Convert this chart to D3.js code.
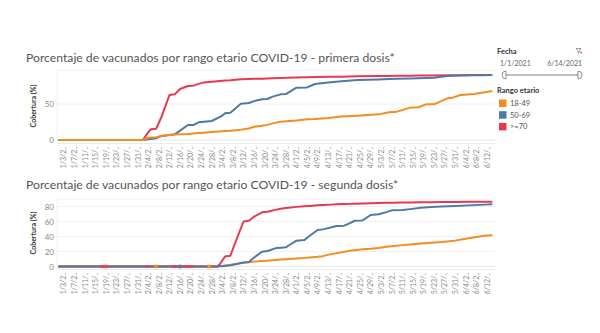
<!DOCTYPE html>
<html>
<head>
<meta charset="utf-8">
<script src="https://cdn.jsdelivr.net/npm/d3@7"></script>
<style>
  html, body { margin: 0; padding: 0; background: #fff; }
  svg { display: block; font-family: Lato, "Open Sans", sans-serif; }
</style>
</head>
<body>
<svg id="chart" width="600" height="333"></svg>
<script>
// Rango etario series
const rangos = ["18-49", "50-69", ">=70"];
const colores = ["#f68b1f", "#4e79a7", "#e8384f"];

// Primera dosis: sampled dates and coverage (%) per age range
const fechasPrimera = ["1/1/2021","2/2/2021","2/4/2021","2/5/2021","2/7/2021","2/9/2021","2/12/2021","2/14/2021","2/16/2021","2/19/2021","2/21/2021","2/23/2021","2/25/2021","2/28/2021","3/4/2021","3/5/2021","3/7/2021","3/11/2021","3/14/2021","3/16/2021","3/19/2021","3/21/2021","3/23/2021","3/26/2021","3/28/2021","4/1/2021","4/5/2021","4/8/2021","4/13/2021","4/18/2021","4/24/2021","5/2/2021","5/6/2021","5/9/2021","5/14/2021","5/17/2021","5/20/2021","5/23/2021","5/28/2021","5/30/2021","6/2/2021","6/7/2021","6/10/2021","6/14/2021"];
const primera1849 = [0,0,3.2,3.4,3.7,5.5,7,7.5,8,8.3,9,9.6,10.2,11,12.2,12.5,13,14.4,16,18.5,19.9,21,23.1,25.5,26,27,28.7,29.2,30.5,32.8,33.8,35.6,38.4,39.4,45,45.4,49.5,49.6,57.9,58.8,62.5,63.9,65.5,68];
const primera5069 = [0,0,1,1.5,2.5,5.6,7,7.9,13,20.8,20.8,24.5,25.5,26.4,34,37,38,50.5,51.4,54,56.5,57,60.2,63.4,63.8,72.7,73,77.8,80,81.5,83.3,84.2,84.7,85,85.4,85.8,86.2,86.6,88.9,89.2,89.5,89.8,90,90.3];
const primera70 = [0,0,11,15,15.7,32,62.5,63.4,70.8,75,75.5,78,80,81,82.4,82.6,83,84.3,84.6,84.9,85.1,85.4,85.6,86,86.3,86.8,87.2,87.5,87.8,88,88.4,88.8,89,89.2,89.4,89.5,89.6,89.7,89.9,90,90.1,90.2,90.2,90.3];

// Segunda dosis: sampled dates and coverage (%) per age range
const fechasSegunda = ["1/1/2021","3/2/2021","3/3/2021","3/5/2021","3/7/2021","3/9/2021","3/12/2021","3/14/2021","3/16/2021","3/19/2021","3/21/2021","3/24/2021","3/26/2021","3/28/2021","3/29/2021","4/1/2021","4/4/2021","4/6/2021","4/9/2021","4/11/2021","4/14/2021","4/16/2021","4/19/2021","4/21/2021","4/23/2021","4/26/2021","4/29/2021","5/2/2021","5/5/2021","5/7/2021","5/11/2021","5/14/2021","5/18/2021","5/22/2021","5/26/2021","5/31/2021","6/5/2021","6/11/2021","6/14/2021"];
const segunda1849 = [0,0,0.5,1.5,2.3,3.5,5,5.6,6.5,7.3,7.8,8.6,9.2,9.8,10,10.7,11.5,12.1,13,13.8,16.5,17.6,19.5,20.9,21.8,23.1,23.8,24.8,26.2,27,28.5,29.4,30.6,31.8,32.8,34.5,37.6,41,41.8];
const segunda5069 = [0,0,0.3,0.8,1.5,3,5.2,6,12,19.7,20.6,24.2,25,25.6,28,34.4,35.3,41,48.7,49.5,52,54,54.4,57.5,61,61.5,68.7,69.6,72.5,74.9,75.3,76.5,78.4,79.2,79.9,80.7,81.5,82.5,82.9];
const segunda70 = [0,0,3,13.3,14.2,33,60,60.9,66.4,72.2,73.1,75.5,77,78,78.4,79.5,80.3,80.8,81.6,82,82.5,82.9,83.2,83.5,83.8,84.1,84.4,84.7,84.9,85,85.2,85.4,85.6,85.8,85.9,86.1,86.2,86.4,86.4];

// Marks of other series that show through on the shared zero line (segunda dosis)
const marcasCeroSerie = ["18-49", "18-49", "18-49", "50-69", ">=70", ">=70", ">=70", ">=70"];
const marcasCeroDesde = ["1/19/2021", "2/7/2021", "2/27/2021", "2/16/2021", "1/17/2021", "2/3/2021", "2/13/2021", "2/17/2021"];
const marcasCeroHasta = ["1/19/2021", "2/7/2021", "2/27/2021", "2/16/2021", "1/20/2021", "2/4/2021", "2/15/2021", "2/21/2021"];

// Axis ticks
const ticksPrimera = [0, 50];
const ticksSegunda = [0, 20, 40, 60, 80];
const etiquetasFecha = ["1/3/2021","1/7/2021","1/11/2021","1/15/2021","1/19/2021","1/23/2021","1/27/2021","1/31/2021","2/4/2021","2/8/2021","2/12/2021","2/16/2021","2/20/2021","2/24/2021","2/28/2021","3/4/2021","3/8/2021","3/12/2021","3/16/2021","3/20/2021","3/24/2021","3/28/2021","4/1/2021","4/5/2021","4/9/2021","4/13/2021","4/17/2021","4/21/2021","4/25/2021","4/29/2021","5/3/2021","5/7/2021","5/11/2021","5/15/2021","5/19/2021","5/23/2021","5/27/2021","5/31/2021","6/4/2021","6/8/2021","6/12/2021"];

// Filter card
const fechaInicio = "1/1/2021";
const fechaFin = "6/14/2021";

const parse = d3.timeParse("%m/%d/%Y");
const svg = d3.select("#chart");

const x = d3.scaleTime()
  .domain([parse(fechaInicio), parse(fechaFin)])
  .range([58.3, 492.3]);

const color = d3.scaleOrdinal().domain(rangos).range(colores);

function panel(cfg) {
  const g = svg.append("g");
  const y = d3.scaleLinear().domain(cfg.domain).range(cfg.yRange);

  // title
  g.append("text")
    .attr("x", 26).attr("y", cfg.titleY)
    .attr("font-size", 12.2).attr("fill", "#555")
    .text(cfg.title);

  // plot frame lines
  g.append("line").attr("x1", 57).attr("x2", 495)
    .attr("y1", cfg.plotTop).attr("y2", cfg.plotTop)
    .attr("stroke", "#f2f2f2");
  g.append("line").attr("x1", 57).attr("x2", 495)
    .attr("y1", cfg.plotBottom).attr("y2", cfg.plotBottom)
    .attr("stroke", "#ececec");
  g.append("line").attr("x1", 57).attr("x2", 57)
    .attr("y1", cfg.plotTop).attr("y2", cfg.plotBottom)
    .attr("stroke", "#f0f0f0");

  // gridlines
  g.append("g").selectAll("line").data(cfg.ticks).join("line")
    .attr("x1", 57).attr("x2", 495)
    .attr("y1", d => y(d)).attr("y2", d => y(d))
    .attr("stroke", d => d === 0 ? "#e6e6e6" : "#f0f0f0");

  // y axis
  const ya = g.append("g").attr("transform", "translate(54,0)")
    .call(d3.axisLeft(y).tickValues(cfg.ticks).tickSize(0).tickPadding(0));
  ya.select(".domain").remove();
  ya.selectAll("text").attr("font-size", 8).attr("fill", "#888")
    .attr("font-family", "Lato, sans-serif");

  // y axis title
  g.append("text")
    .attr("transform", `translate(36,${cfg.yTitleY}) rotate(-90)`)
    .attr("text-anchor", "middle")
    .attr("font-size", 7).attr("font-weight", "bold").attr("fill", "#333")
    .text("Cobertura (%)");

  // x axis
  const xa = g.append("g").attr("transform", `translate(0,${cfg.plotBottom})`)
    .call(d3.axisBottom(x)
      .tickValues(etiquetasFecha.map(parse))
      .tickSize(0)
      .tickFormat(d => d3.timeFormat("%-m/%-d/%Y")(d).slice(0, 5) + ".."));
  xa.select(".domain").remove();
  xa.selectAll("text")
    .attr("font-size", 7).attr("fill", "#888")
    .attr("font-family", "Lato, sans-serif")
    .attr("text-anchor", "end")
    .attr("transform", "rotate(-90)")
    .attr("x", -3).attr("y", 0).attr("dy", "0.33em");

  const line = d3.line().x(d => x(d.fecha)).y(d => y(d.valor));
  const fechas = cfg.fechas.map(parse);
  const series = cfg.order.map(r => ({
    rango: r,
    puntos: fechas.map((f, i) => ({ fecha: f, valor: cfg.valores[r][i] }))
  }));

  g.append("g").selectAll("path").data(series).join("path")
    .attr("d", s => line(s.puntos))
    .attr("fill", "none")
    .attr("stroke", s => color(s.rango))
    .attr("stroke-width", 2)
    .attr("stroke-linejoin", "round");

  if (cfg.marcas) {
    const mg = g.append("g");
    cfg.marcas.forEach(m => {
      const x1 = x(parse(m.desde)), x2 = x(parse(m.hasta));
      if (x1 === x2) {
        mg.append("rect")
          .attr("x", x1 - 1.8).attr("y", y(0) - 1.8)
          .attr("width", 3.6).attr("height", 3.6)
          .attr("fill", color(m.serie));
      } else {
        mg.append("line")
          .attr("x1", x1).attr("x2", x2)
          .attr("y1", y(0)).attr("y2", y(0))
          .attr("stroke", color(m.serie)).attr("stroke-width", 2.2);
      }
    });
  }
}

panel({
  title: "Porcentaje de vacunados por rango etario COVID-19 - primera dosis*",
  titleY: 62,
  domain: [0, 100], yRange: [140, 68],
  plotTop: 70.5, plotBottom: 143.5,
  ticks: ticksPrimera,
  yTitleY: 106,
  fechas: fechasPrimera,
  valores: { "18-49": primera1849, "50-69": primera5069, ">=70": primera70 },
  order: [">=70", "50-69", "18-49"]
});

panel({
  title: "Porcentaje de vacunados por rango etario COVID-19 - segunda dosis*",
  titleY: 189,
  domain: [0, 90], yRange: [266.5, 199],
  plotTop: 199, plotBottom: 269.5,
  ticks: ticksSegunda,
  yTitleY: 233,
  fechas: fechasSegunda,
  valores: { "18-49": segunda1849, "50-69": segunda5069, ">=70": segunda70 },
  order: ["18-49", ">=70", "50-69"],
  marcas: marcasCeroSerie.map((s, i) => ({ serie: s, desde: marcasCeroDesde[i], hasta: marcasCeroHasta[i] }))
});

// Filter card: Fecha
const card = svg.append("g");
card.append("text").attr("x", 497).attr("y", 54)
  .attr("font-size", 7.5).attr("font-weight", "bold").attr("fill", "#333").text("Fecha");
// funnel icon
card.append("path")
  .attr("d", "M576,48.5 h5 l-2,2.5 v2.2 l-1,-0.6 v-1.6 z")
  .attr("fill", "none").attr("stroke", "#777").attr("stroke-width", 0.7);
card.append("path")
  .attr("d", "M580.2,51.6 l1.8,1.8 M582,51.6 l-1.8,1.8")
  .attr("stroke", "#e8384f").attr("stroke-width", 0.8);
card.append("text").attr("x", 500).attr("y", 66)
  .attr("font-size", 7).attr("fill", "#666").text(fechaInicio);
card.append("text").attr("x", 582).attr("y", 66).attr("text-anchor", "end")
  .attr("font-size", 7).attr("fill", "#666").text(fechaFin);
card.append("line").attr("x1", 505).attr("x2", 579).attr("y1", 75).attr("y2", 75)
  .attr("stroke", "#aaa").attr("stroke-width", 1.6);
card.append("path")
  .attr("d", "M506,71 v8 a4,4 0 0 1 0,-8 z")
  .attr("fill", "#fff").attr("stroke", "#777").attr("stroke-width", 0.8);
card.append("path")
  .attr("d", "M578,71 v8 a4,4 0 0 0 0,-8 z")
  .attr("fill", "#fff").attr("stroke", "#777").attr("stroke-width", 0.8);

// Legend: Rango etario
card.append("text").attr("x", 497).attr("y", 93)
  .attr("font-size", 7.5).attr("font-weight", "bold").attr("fill", "#333").text("Rango etario");
const leg = card.append("g").selectAll("g").data(rangos).join("g")
  .attr("transform", (d, i) => `translate(499,${99.5 + i * 11.7})`);
leg.append("rect").attr("width", 7.5).attr("height", 7.5).attr("fill", d => color(d));
leg.append("text").attr("x", 11).attr("y", 6.5)
  .attr("font-size", 7.5).attr("fill", "#555").text(d => d);
</script>
</body>
</html>
